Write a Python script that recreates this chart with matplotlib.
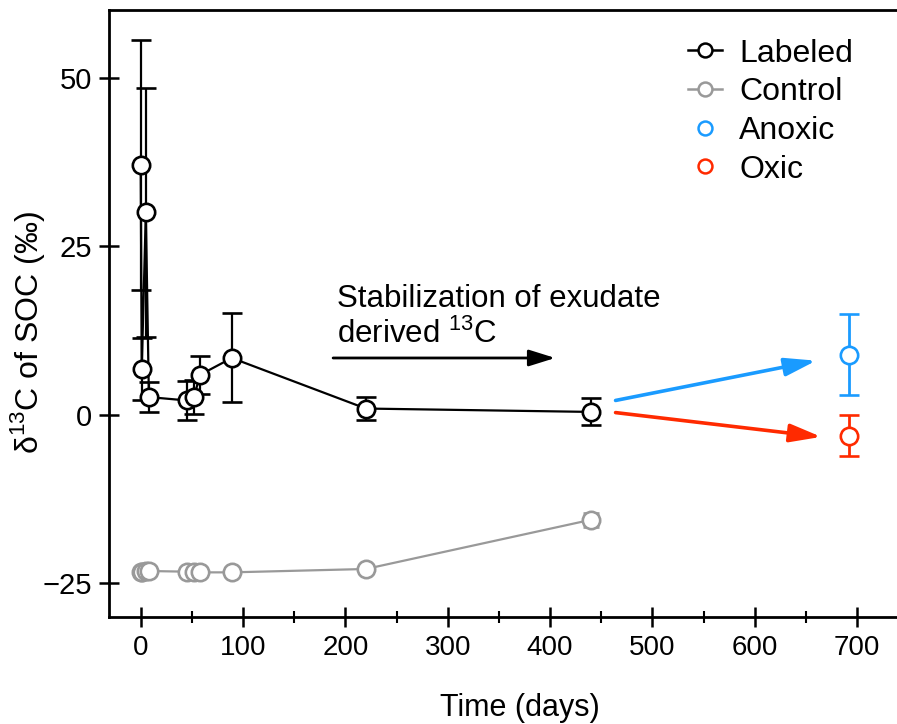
import numpy as np
import matplotlib.pyplot as plt
from matplotlib.lines import Line2D

plt.rcParams['font.family'] = ['Liberation Sans', 'DejaVu Sans']
plt.rcParams['mathtext.fontset'] = 'custom'
plt.rcParams['mathtext.rm'] = 'Liberation Sans'

# Labeled soil (13C-exudate addition)
lab_t = [0, 1, 5, 8, 45, 52, 58, 89, 220, 440]
lab_d = [37.0, 6.7, 30.0, 2.6, 2.1, 2.6, 5.9, 8.4, 0.9, 0.4]
lab_err = [18.5, 4.6, 18.5, 2.2, 2.9, 2.5, 2.8, 6.6, 1.7, 2.0]

# Unlabeled control
ctl_t = [0, 1, 5, 8, 45, 52, 58, 89, 220, 440]
ctl_d = [-23.3, -23.4, -23.2, -23.2, -23.3, -23.3, -23.4, -23.4, -22.9, -15.6]
ctl_err = [0.3, 0.3, 0.3, 0.3, 0.3, 0.3, 0.3, 0.3, 0.4, 1.0]

# Final incubation under two redox treatments
anox_t, anox_d, anox_err = [692], [8.9], [6.0]
oxic_t, oxic_d, oxic_err = [692], [-3.1], [3.1]

# arrow start/end points (days, permil)
arrow_start = [(464, 2.1), (464, 0.3)]
arrow_end = [(660, 8.0), (665, -3.3)]
stab_arrow = [(188, 8.4), (405, 8.4)]

blue = '#1a9bff'
red = '#ff2a00'
grey = '#999999'

fig = plt.figure(figsize=(8.97, 7.24), dpi=100)
ax = fig.add_axes([0.1215, 0.148, 0.8785, 0.838])

mk = dict(marker='o', ms=12.5, mfc='white', mew=1.9)
ax.errorbar(ctl_t, ctl_d, yerr=ctl_err, color=grey, lw=1.6, capsize=6,
            elinewidth=1.6, capthick=1.6, **mk)
ax.errorbar(lab_t, lab_d, yerr=lab_err, color='black', lw=1.6, capsize=7,
            elinewidth=1.6, capthick=1.6, **mk)
ax.errorbar(anox_t, anox_d, yerr=anox_err, color=blue, ls='none', capsize=7,
            elinewidth=2, capthick=2, **mk)
ax.errorbar(oxic_t, oxic_d, yerr=oxic_err, color=red, ls='none', capsize=7,
            elinewidth=2, capthick=2, **mk)

head = '-|>,head_length=1.9,head_width=0.55'
for (s, e, c) in zip(arrow_start, arrow_end, [blue, red]):
    ax.annotate('', xy=e, xytext=s,
                arrowprops=dict(arrowstyle=head, color=c, lw=2.6,
                                shrinkA=0, shrinkB=0))
ax.annotate('', xy=stab_arrow[1], xytext=stab_arrow[0],
            arrowprops=dict(arrowstyle='-|>,head_length=1.6,head_width=0.5',
                            color='black', lw=2, shrinkA=0, shrinkB=0))
ax.text(192, 10.6, 'Stabilization of exudate\nderived $^{13}$C', fontsize=22.5,
        ha='left', va='baseline', linespacing=1.2)

ax.set_xlim(-31, 739)
ax.set_ylim(-30, 60)
ax.set_xticks(np.arange(0, 701, 100))
ax.set_xticks(np.arange(50, 701, 100), minor=True)
ax.set_yticks([-25, 0, 25, 50])
ax.set_yticklabels(['\u221225', '0', '25', '50'])
ax.tick_params(which='major', direction='inout', length=14, width=1.8, labelsize=20)
ax.tick_params(which='minor', direction='inout', length=8, width=1.5)
ax.tick_params(axis='x', pad=6)
ax.tick_params(axis='y', pad=5, labelsize=21)

for side in ['left', 'bottom', 'top']:
    ax.spines[side].set_linewidth(2)
ax.spines['right'].set_visible(False)

ax.set_xlabel('Time (days)', fontsize=22, va='center')
ax.xaxis.set_label_coords(0.521, -0.150)
ax.set_ylabel('\u03b4$^{13}$C of SOC (\u2030)', fontsize=23, va='center')
ax.yaxis.set_label_coords(-0.103, 0.468)

handles = [
    Line2D([], [], color='black', lw=1.8, marker='o', ms=10, mfc='white', mew=1.8),
    Line2D([], [], color=grey, lw=1.8, marker='o', ms=10, mfc='white', mew=1.8),
    Line2D([], [], color=blue, ls='none', marker='o', ms=10, mfc='white', mew=1.8),
    Line2D([], [], color=red, ls='none', marker='o', ms=10, mfc='white', mew=1.8),
]
ax.legend(handles, ['Labeled', 'Control', 'Anoxic', 'Oxic'], loc='upper left',
          bbox_to_anchor=(0.735, 0.953), frameon=False, fontsize=23,
          borderpad=0, borderaxespad=0, handlelength=1.05, handletextpad=0.55,
          labelspacing=0.27)

fig.savefig('out.png', dpi=100)
